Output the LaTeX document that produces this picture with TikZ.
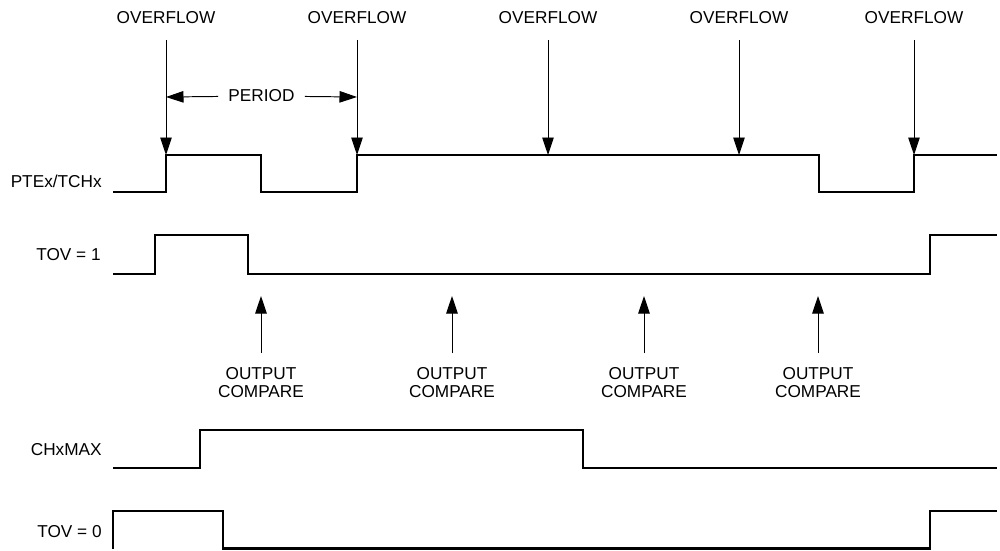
\documentclass[tikz,border=0pt]{standalone}
\usepackage{fontspec}
\setmainfont{Liberation Sans}
\usepackage{tikz}
\usetikzlibrary{arrows.meta,positioning}
\tikzset{
  every picture/.append style={line join=miter},
  tim wave/.style={line width=1.2pt},
  tim arrow/.style={line width=0.55pt,-{Triangle[length=3.5mm,width=2.3mm]}},
  tim note/.style={font=\fontsize{9.8}{10.2}\selectfont,inner sep=0pt,align=center},
  tim signal/.style={font=\fontsize{9.8}{10.2}\selectfont,inner sep=0pt,anchor=east}
}

\begin{document}
\begin{tikzpicture}[x=0.2mm,y=-0.2mm]
  \useasboundingbox (0,0) rectangle (1000,550);
  % signal names
  \node[tim signal] (pte) at (102,181) {PTEx/TCHx};
  \node[tim signal] (tovone) at (101,255) {TOV = 1};
  \node[tim signal] (chx) at (102,450) {CHxMAX};
  \node[tim signal] (tovzero) at (102,532) {TOV = 0};
  % waveforms
  \draw[tim wave] (113,192) -- (166,192) |- (261,155) |- (357,192) |- (819,155) |- (914,192) |- (997,155);
  \draw[tim wave] (113,274) -- (155,274) |- (248,235) |- (930,274) |- (997,235);
  \draw[tim wave] (113,468) -- (200,468) |- (583,430) |- (997,468);
  \draw[tim wave] (113,548.5) -- (113,511) -- (223,511) |- (930,548.5) |- (997,511);
  % overflow events
  \foreach \n/\x in {1/166,2/357,3/548,4/739,5/914} {
    \coordinate (ove\n) at (\x,155);
    \node[tim note] (ov\n) at (\x,18) {OVERFLOW};
    \draw[tim arrow,shorten <=3.1mm] (ov\n) -- (ove\n);
  }
  % period
  \coordinate (perl) at (166,97);
  \coordinate (perr) at (357,97);
  \node[tim note,inner xsep=2mm] (per) at (261.5,96) {PERIOD};
  \draw[tim arrow] (per) -- (perl);
  \draw[tim arrow] (per) -- (perr);
  % output compare events
  \foreach \n/\x in {1/261,2/452,3/644,4/818} {
    \coordinate (oct\n) at (\x,296);
    \coordinate (ocb\n) at (\x,353);
    \node[tim note,below=2.8mm of ocb\n] (oc\n) {OUTPUT\\COMPARE};
    \draw[tim arrow,shorten <=2.8mm] (oc\n) -- (oct\n);
  }
\end{tikzpicture}
\end{document}
